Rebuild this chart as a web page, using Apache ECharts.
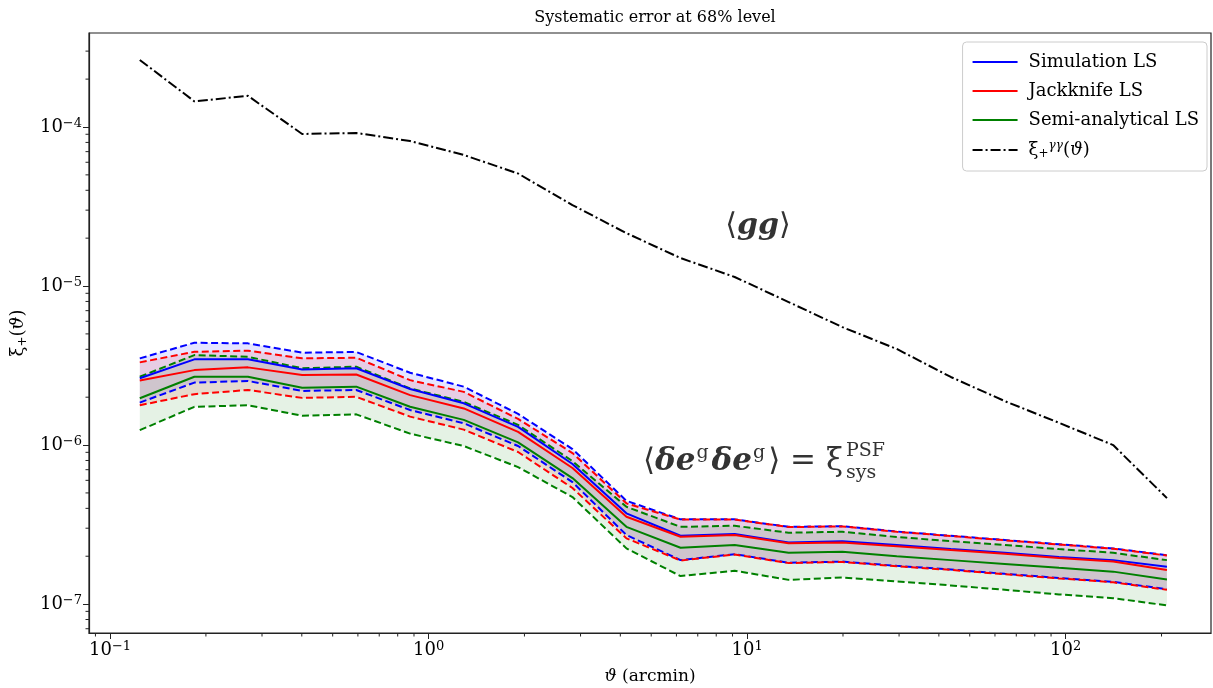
<!DOCTYPE html>
<html>
<head>
<meta charset="utf-8">
<script src="https://cdn.jsdelivr.net/npm/echarts@6/dist/echarts.min.js"></script>
<style>
  html, body { margin: 0; padding: 0; background: #fff; }
  #chart { width: 1213px; height: 688px; }
</style>
</head>
<body>
<div id="chart"></div>
<script>
// Angular bins (arcmin)
const theta = [0.124, 0.184, 0.271, 0.401, 0.593, 0.875, 1.29, 1.91, 2.83, 4.18,
               6.18, 9.14, 13.5, 19.9, 29.5, 43.6, 64.4, 95.3, 141, 208];

// Cosmic-shear signal xi_+^{gamma gamma}
const xiGG = [2.64e-4, 1.45e-4, 1.57e-4, 9.04e-5, 9.17e-5, 8.16e-5, 6.67e-5, 5.10e-5, 3.23e-5, 2.15e-5,
              1.50e-5, 1.14e-5, 7.93e-6, 5.52e-6, 4.02e-6, 2.68e-6, 1.89e-6, 1.38e-6, 1.00e-6, 4.64e-7];

// Simulation LS: central value and 68% bounds
const simMid = [2.63e-6, 3.46e-6, 3.46e-6, 2.99e-6, 3.04e-6, 2.25e-6, 1.83e-6, 1.30e-6, 7.60e-7, 3.72e-7,
                2.69e-7, 2.76e-7, 2.44e-7, 2.48e-7, 2.35e-7, 2.22e-7, 2.10e-7, 1.98e-7, 1.89e-7, 1.72e-7];
const simHi  = [3.51e-6, 4.40e-6, 4.36e-6, 3.81e-6, 3.85e-6, 2.85e-6, 2.33e-6, 1.57e-6, 9.44e-7, 4.46e-7,
                3.41e-7, 3.41e-7, 3.06e-7, 3.09e-7, 2.86e-7, 2.69e-7, 2.53e-7, 2.38e-7, 2.24e-7, 2.03e-7];
const simLo  = [1.85e-6, 2.47e-6, 2.53e-6, 2.19e-6, 2.22e-6, 1.66e-6, 1.37e-6, 9.86e-7, 5.85e-7, 2.72e-7,
                1.89e-7, 2.06e-7, 1.82e-7, 1.85e-7, 1.74e-7, 1.65e-7, 1.55e-7, 1.46e-7, 1.38e-7, 1.24e-7];

// Jackknife LS
const jkMid = [2.55e-6, 2.96e-6, 3.08e-6, 2.76e-6, 2.78e-6, 2.06e-6, 1.70e-6, 1.21e-6, 7.17e-7, 3.54e-7,
               2.65e-7, 2.72e-7, 2.41e-7, 2.44e-7, 2.31e-7, 2.19e-7, 2.07e-7, 1.95e-7, 1.85e-7, 1.64e-7];
const jkHi  = [3.31e-6, 3.86e-6, 3.92e-6, 3.51e-6, 3.54e-6, 2.56e-6, 2.16e-6, 1.46e-6, 8.91e-7, 4.30e-7,
               3.40e-7, 3.40e-7, 3.05e-7, 3.08e-7, 2.85e-7, 2.68e-7, 2.52e-7, 2.37e-7, 2.23e-7, 2.02e-7];
const jkLo  = [1.78e-6, 2.09e-6, 2.22e-6, 1.98e-6, 2.01e-6, 1.51e-6, 1.25e-6, 9.04e-7, 5.37e-7, 2.59e-7,
               1.88e-7, 2.05e-7, 1.81e-7, 1.84e-7, 1.73e-7, 1.64e-7, 1.54e-7, 1.45e-7, 1.37e-7, 1.23e-7];

// Semi-analytical LS
const saMid = [1.97e-6, 2.69e-6, 2.69e-6, 2.29e-6, 2.33e-6, 1.74e-6, 1.44e-6, 1.04e-6, 6.20e-7, 3.06e-7,
               2.26e-7, 2.35e-7, 2.10e-7, 2.13e-7, 2.00e-7, 1.89e-7, 1.79e-7, 1.69e-7, 1.60e-7, 1.43e-7];
const saHi  = [2.69e-6, 3.68e-6, 3.59e-6, 3.04e-6, 3.11e-6, 2.27e-6, 1.87e-6, 1.34e-6, 7.93e-7, 4.09e-7,
               3.06e-7, 3.11e-7, 2.81e-7, 2.85e-7, 2.64e-7, 2.49e-7, 2.35e-7, 2.22e-7, 2.10e-7, 1.89e-7];
const saLo  = [1.24e-6, 1.74e-6, 1.78e-6, 1.53e-6, 1.56e-6, 1.18e-6, 9.86e-7, 7.27e-7, 4.71e-7, 2.24e-7,
               1.50e-7, 1.62e-7, 1.42e-7, 1.47e-7, 1.39e-7, 1.31e-7, 1.23e-7, 1.15e-7, 1.09e-7, 9.81e-8];

// Legend entries
const legendNames = ['Simulation LS', 'Jackknife LS', 'Semi-analytical LS', 'xiGG'];

// Minor tick multipliers inside each decade
const minorFactors = [2, 3, 4, 5, 6, 7, 8, 9];

const X_MIN = 0.0859, X_MAX = 286, Y_MIN = 6.58e-8, Y_MAX = 3.9e-4;
const SERIF = "'DejaVu Serif', 'Liberation Serif', serif";
const MATH = "'DejaVu Serif', 'DejaVu Sans', serif";
const INK = '#222';
const NOTE = '#333';

const BLUE = '#0000ff', RED = '#ff0000', GREEN = '#008000';

function pairs(ys) { return theta.map((t, i) => [t, ys[i]]); }

function minorValues(lo, hi) {
  const out = [];
  for (let k = Math.floor(Math.log10(lo)); k <= Math.ceil(Math.log10(hi)); k++) {
    for (const m of minorFactors) {
      const v = m * Math.pow(10, k);
      if (v > lo && v < hi) out.push(v);
    }
  }
  return out;
}

// Decade labels drawn as 10 with a raised exponent
function powLabel(v) {
  const e = Math.round(Math.log10(v));
  return '{b|10}{e|' + (e < 0 ? '\u2212' + (-e) : String(e)) + '}';
}
const powRich = {
  b: { fontFamily: SERIF, fontSize: 18, color: '#000', lineHeight: 20, verticalAlign: 'middle' },
  e: { fontFamily: SERIF, fontSize: 13, color: '#000', lineHeight: 8, verticalAlign: 'top' }
};

// Shaded band between two bounds
function band(name, lo, hi, fill) {
  return {
    type: 'custom', name: name, silent: true, z: 1,
    data: [[theta[0], lo[0]]],
    renderItem: function (params, api) {
      const pts = [];
      for (let i = 0; i < theta.length; i++) pts.push(api.coord([theta[i], hi[i]]));
      for (let i = theta.length - 1; i >= 0; i--) pts.push(api.coord([theta[i], lo[i]]));
      return { type: 'polygon', shape: { points: pts }, style: { fill: fill, stroke: null } };
    }
  };
}

function line(name, ys, color, dash, z) {
  return {
    type: 'line', name: name, data: pairs(ys), z: z || 3,
    symbol: 'none', showSymbol: false, smooth: false,
    lineStyle: { color: color, width: 2, type: dash || 'solid' },
    itemStyle: { color: color },
    emphasis: { disabled: true }
  };
}

const DASH = [7, 3.5];

const series = [
  band('sim band', simLo, simHi, 'rgba(0,0,255,0.10)'),
  band('jk band', jkLo, jkHi, 'rgba(255,0,0,0.10)'),
  band('sa band', saLo, saHi, 'rgba(0,128,0,0.10)'),

  line('Simulation LS upper', simHi, BLUE, DASH),
  line('Simulation LS lower', simLo, BLUE, DASH),
  line('Jackknife LS upper', jkHi, RED, DASH),
  line('Jackknife LS lower', jkLo, RED, DASH),
  line('Semi-analytical LS upper', saHi, GREEN, DASH),
  line('Semi-analytical LS lower', saLo, GREEN, DASH),

  line('Simulation LS', simMid, BLUE, 'solid', 4),
  line('Jackknife LS', jkMid, RED, 'solid', 4),
  line('Semi-analytical LS', saMid, GREEN, 'solid', 4),
  line('xiGG', xiGG, '#000', [10, 3, 2, 3], 4),

  // minor ticks on the bottom axis
  {
    type: 'custom', silent: true, z: 10, clip: false,
    data: minorValues(X_MIN, X_MAX).map(v => [v, Y_MIN]),
    renderItem: function (params, api) {
      const c = api.coord([api.value(0), api.value(1)]);
      return { type: 'line', shape: { x1: c[0], y1: c[1], x2: c[0], y2: c[1] + 3.5 },
               style: { stroke: INK, lineWidth: 1 } };
    }
  },
  // minor ticks on the left axis
  {
    type: 'custom', silent: true, z: 10, clip: false,
    data: minorValues(Y_MIN, Y_MAX).map(v => [X_MIN, v]),
    renderItem: function (params, api) {
      const c = api.coord([api.value(0), api.value(1)]);
      return { type: 'line', shape: { x1: c[0] - 3.5, y1: c[1], x2: c[0], y2: c[1] },
               style: { stroke: INK, lineWidth: 1 } };
    }
  }
];

const chart = echarts.init(document.getElementById('chart'), null, { renderer: 'canvas' });

chart.setOption({
  animation: false,
  backgroundColor: '#fff',
  title: {
    text: 'Systematic error at 68% level',
    left: 650, top: 5, textAlign: 'center',
    textStyle: { fontFamily: SERIF, fontSize: 16, fontWeight: 'normal', color: '#000' }
  },
  grid: {
    left: 89, right: 2, top: 33, bottom: 55,
    containLabel: false, outerBoundsMode: 'none',
    show: true, borderColor: INK, borderWidth: 1.2, backgroundColor: 'transparent'
  },
  legend: {
    data: legendNames,
    orient: 'vertical',
    right: 6, top: 42,
    padding: [11, 8, 11, 9],
    itemWidth: 45, itemHeight: 14, itemGap: 11,
    backgroundColor: '#fff',
    borderColor: '#cccccc', borderWidth: 1, borderRadius: 4,
    selectedMode: false,
    itemStyle: { opacity: 0 },
    formatter: function (name) {
      if (name === 'xiGG') return '{n|ξ}{sub|+}{sup|γγ}{n|(}{it|ϑ}{n|)}';
      return '{n|' + name + '}';
    },
    textStyle: {
      fontFamily: SERIF, fontSize: 18, color: '#000', padding: [0, 0, 0, 6],
      rich: {
        n: { fontFamily: SERIF, fontSize: 18, color: '#000', lineHeight: 20, verticalAlign: 'middle' },
        it: { fontFamily: SERIF, fontSize: 18, fontStyle: 'italic', color: '#000', lineHeight: 20, verticalAlign: 'middle' },
        sub: { fontFamily: SERIF, fontSize: 12, color: '#000', lineHeight: 12, verticalAlign: 'bottom' },
        sup: { fontFamily: SERIF, fontSize: 12, fontStyle: 'italic', color: '#000', lineHeight: 12, verticalAlign: 'top' }
      }
    }
  },
  xAxis: {
    type: 'log', logBase: 10, min: X_MIN, max: X_MAX,
    name: '{it|ϑ}{n| (arcmin)}', nameLocation: 'middle', nameGap: 35,
    nameTextStyle: {
      rich: {
        it: { fontFamily: SERIF, fontSize: 17, fontStyle: 'italic', color: '#000' },
        n: { fontFamily: SERIF, fontSize: 17, color: '#000' }
      }
    },
    axisLine: { show: true, lineStyle: { color: INK, width: 1.2 } },
    axisTick: { show: true, length: 6, lineStyle: { color: INK, width: 1 } },
    minorTick: { show: false },
    splitLine: { show: false },
    axisLabel: {
      margin: 7, showMinLabel: false, showMaxLabel: false,
      formatter: powLabel, rich: powRich
    }
  },
  yAxis: {
    type: 'log', logBase: 10, min: Y_MIN, max: Y_MAX,
    name: '{n|ξ}{sub|+}{n|(}{it|ϑ}{n|)}', nameLocation: 'middle', nameGap: 57, nameRotate: 90,
    nameTextStyle: {
      rich: {
        n: { fontFamily: SERIF, fontSize: 18, color: '#000', lineHeight: 22, verticalAlign: 'middle' },
        it: { fontFamily: SERIF, fontSize: 18, fontStyle: 'italic', color: '#000', lineHeight: 22, verticalAlign: 'middle' },
        sub: { fontFamily: SERIF, fontSize: 12, color: '#000', lineHeight: 10, verticalAlign: 'bottom' }
      }
    },
    axisLine: { show: true, lineStyle: { color: INK, width: 1.2 } },
    axisTick: { show: true, length: 6, lineStyle: { color: INK, width: 1 } },
    minorTick: { show: false },
    splitLine: { show: false },
    axisLabel: {
      margin: 7, showMinLabel: false, showMaxLabel: false,
      formatter: powLabel, rich: powRich
    }
  },
  graphic: [
    {
      type: 'text', x: 758, y: 226, z: 20,
      style: {
        text: '{n|⟨}{bi|gg}{n|⟩}',
        align: 'center', verticalAlign: 'middle',
        rich: {
          n: { fontFamily: MATH, fontSize: 30, fill: NOTE, lineHeight: 36, verticalAlign: 'middle' },
          bi: { fontFamily: SERIF, fontSize: 30, fontWeight: 'bold', fontStyle: 'italic', fill: NOTE, lineHeight: 36, verticalAlign: 'middle' }
        }
      }
    },
    {
      type: 'text', x: 843, y: 462, z: 20,
      style: {
        text: '{n|⟨}{bi|δe}{sup|g}{bi|δe}{sup|g}{n|⟩ = ξ}',
        align: 'right', verticalAlign: 'middle',
        rich: {
          n: { fontFamily: MATH, fontSize: 31, fill: NOTE, lineHeight: 36, verticalAlign: 'middle' },
          bi: { fontFamily: SERIF, fontSize: 31, fontWeight: 'bold', fontStyle: 'italic', fill: NOTE, lineHeight: 36, verticalAlign: 'middle' },
          sup: { fontFamily: SERIF, fontSize: 19, fill: NOTE, lineHeight: 20, verticalAlign: 'top', padding: [0, 3, 0, 1] }
        }
      }
    },
    {
      type: 'text', x: 846, y: 451, z: 20,
      style: { text: 'PSF', fontFamily: SERIF, fontSize: 19, fill: NOTE, align: 'left', verticalAlign: 'middle' }
    },
    {
      type: 'text', x: 846, y: 473, z: 20,
      style: { text: 'sys', fontFamily: SERIF, fontSize: 19, fill: NOTE, align: 'left', verticalAlign: 'middle' }
    }
  ],
  series: series
});
</script>
</body>
</html>
